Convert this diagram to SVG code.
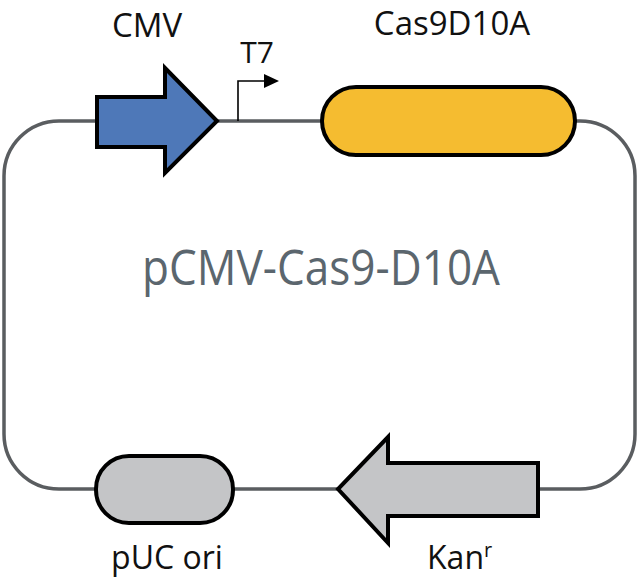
<svg xmlns="http://www.w3.org/2000/svg" width="640" height="582" viewBox="0 0 640 582">
<style>
.lbl{font-family:"Open Sans","Noto Sans","DejaVu Sans",sans-serif;fill:#111;}
.part{stroke:#000;stroke-width:4;stroke-linejoin:miter;}
</style>
<rect width="640" height="582" fill="#fff"/>
<g id="connectors">
<rect id="backbone" x="4" y="121" width="631" height="368" rx="55" ry="55" fill="none" stroke="#5a5d60" stroke-width="3.5"/>
</g>
<g id="cmv">
<polygon class="part" fill="#4e78b8" points="97,97 165,97 165,68 217,121 165,173 165,147 97,147"/>
<text class="lbl" x="147" y="37" font-size="33" text-anchor="middle">CMV</text>
</g>
<g id="t7">
<polyline points="238,121 238,81 266,81" fill="none" stroke="#000" stroke-width="1.6"/>
<polygon points="264,74 279,81 264,88" fill="#000"/>
<text class="lbl" x="257" y="63" font-size="30" text-anchor="middle">T7</text>
</g>
<g id="cas9">
<rect class="part" x="322" y="87" width="253" height="68" rx="34" ry="34" fill="#f5bc30"/>
<text class="lbl" x="452" y="35" font-size="33" text-anchor="middle">Cas9D10A</text>
</g>
<g id="puc">
<rect class="part" x="96" y="456" width="137" height="67" rx="33" ry="33" fill="#c4c5c7"/>
<text class="lbl" x="167" y="569" font-size="32" text-anchor="middle">pUC ori</text>
</g>
<g id="kan">
<polygon class="part" fill="#c4c5c7" points="538,463 388,463 388,437 338,489 388,543 388,516 538,516"/>
<text class="lbl" x="427" y="569" font-size="32">Kan<tspan font-size="20" dy="-12">r</tspan></text>
</g>
<g id="title">
<text x="321" y="285" font-family="'Open Sans','Noto Sans',sans-serif" font-size="50" fill="#5b666e" text-anchor="middle" textLength="358" lengthAdjust="spacingAndGlyphs">pCMV-Cas9-D10A</text>
</g>
</svg>
